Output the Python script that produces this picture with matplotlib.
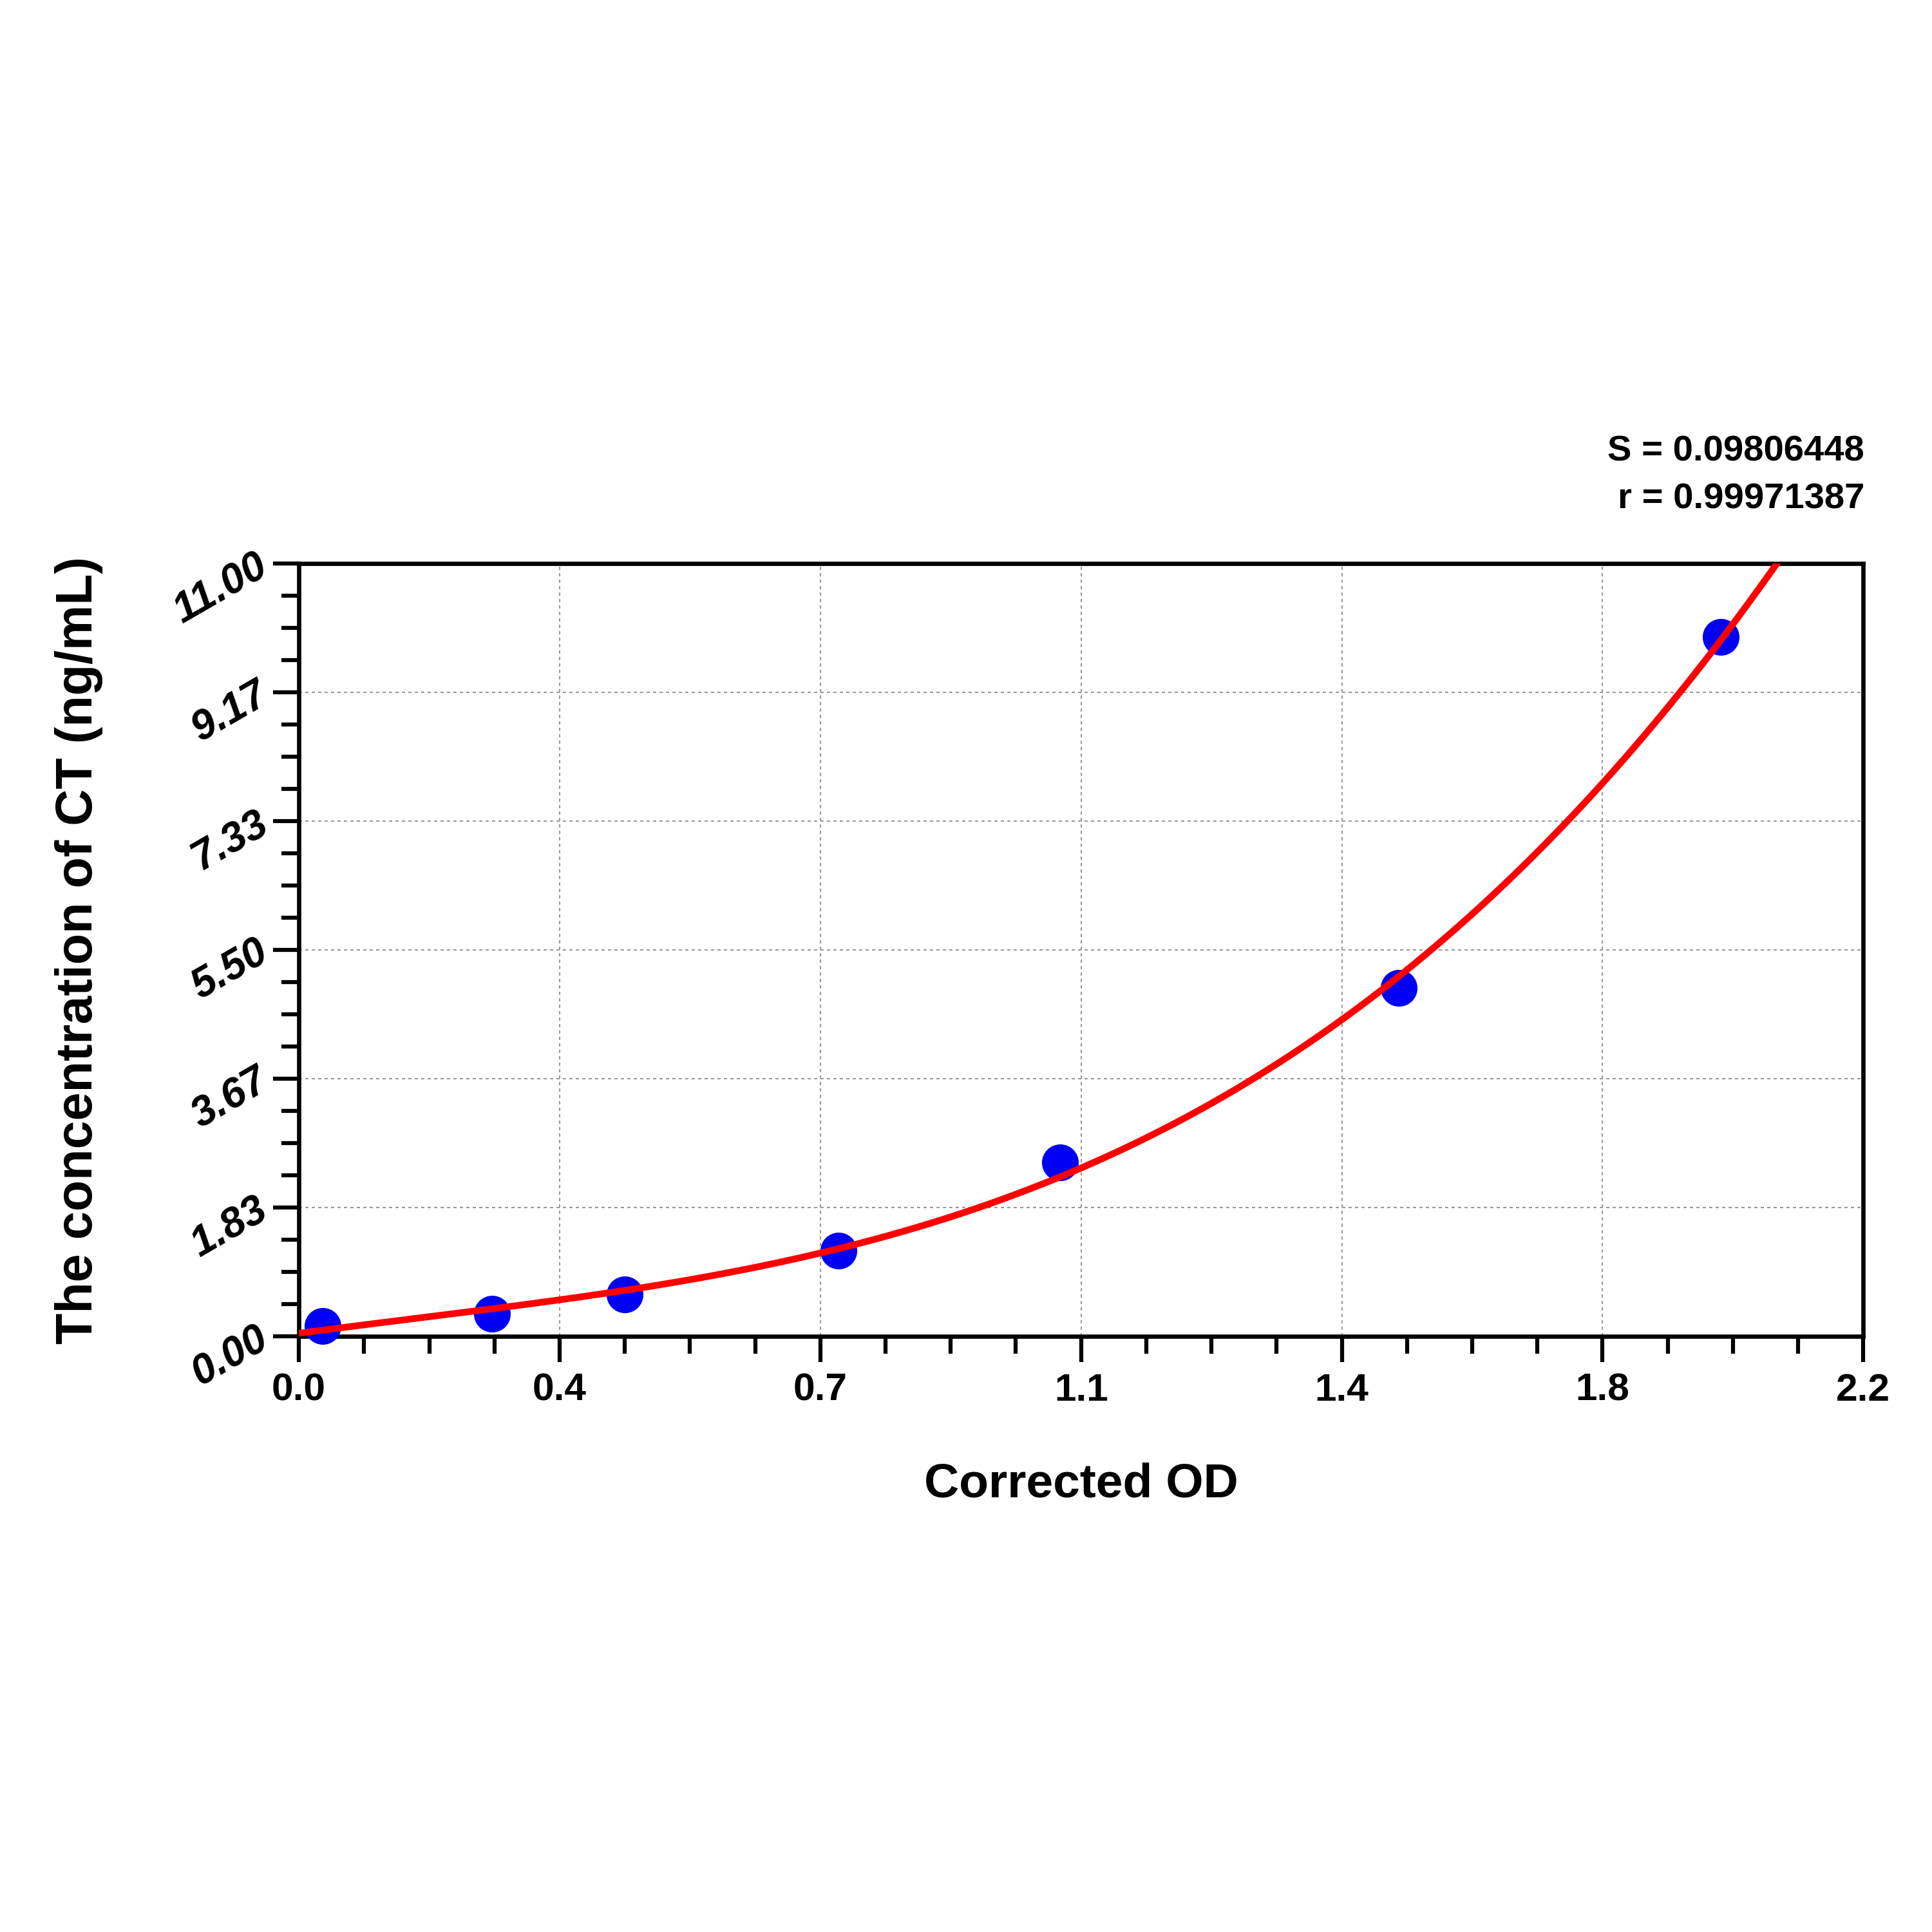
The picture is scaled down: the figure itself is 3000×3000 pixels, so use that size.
import numpy as np
import matplotlib
matplotlib.use("Agg")
import matplotlib.pyplot as plt
from matplotlib.ticker import FixedLocator, AutoMinorLocator

plt.rcParams['font.family'] = ['Liberation Sans', 'DejaVu Sans']

# Data
od = [0.033, 0.272, 0.458, 0.759, 1.070, 1.547, 2.000]
conc = [0.15, 0.32, 0.60, 1.22, 2.48, 4.96, 9.96]

x_ticks = [0.0, 2.2 / 6, 2 * 2.2 / 6, 1.1, 4 * 2.2 / 6, 5 * 2.2 / 6, 2.2]
x_tick_labels = ["0.0", "0.4", "0.7", "1.1", "1.4", "1.8", "2.2"]
y_ticks = [0.0, 11 / 6, 2 * 11 / 6, 5.5, 4 * 11 / 6, 5 * 11 / 6, 11.0]
y_tick_labels = ["0.00", "1.83", "3.67", "5.50", "7.33", "9.17", "11.00"]

stats_text = "S = 0.09806448\nr = 0.99971387"
x_label = "Corrected OD"
y_label = "The concentration of CT (ng/mL)"

# Fitted standard curve (cubic regression on the standards)
coef = np.polyfit(od, conc, 3)
xs = np.linspace(0.0, 2.2, 600)
ys = np.polyval(coef, xs)

fig = plt.figure(figsize=(10, 10), dpi=300)
ax = fig.add_axes([0.1547, 0.3083, 0.8097, 0.4])

ax.plot(od, conc, 'o', color='#0000f5', markersize=12.7, zorder=3, clip_on=False)
ax.plot(xs, ys, '-', color='#ff0000', linewidth=2.5, zorder=4, solid_capstyle='round')

ax.set_xlim(0, 2.2)
ax.set_ylim(0, 11)

ax.xaxis.set_major_locator(FixedLocator(x_ticks))
ax.set_xticklabels(x_tick_labels, fontsize=14.5, fontweight='bold')
ax.yaxis.set_major_locator(FixedLocator(y_ticks))
ax.set_yticklabels(y_tick_labels, fontsize=15.5, fontweight='bold', fontstyle='italic',
                   rotation=30, ha='right', va='center', rotation_mode='anchor')
ax.xaxis.set_minor_locator(AutoMinorLocator(4))
ax.yaxis.set_minor_locator(AutoMinorLocator(4))

ax.tick_params(which='major', direction='out', length=9.6, width=1.5, color='black')
ax.tick_params(which='minor', direction='out', length=6.5, width=1.5, color='black')
ax.tick_params(axis='x', which='major', pad=4)
ax.tick_params(axis='y', which='major', pad=3)

for s in ax.spines.values():
    s.set_linewidth(1.6)
    s.set_color('black')

ax.grid(True, which='major', color='#9a9a9a', linewidth=0.5, linestyle=(0, (2.4, 2.4)))
ax.set_axisbelow(True)

ax.set_xlabel(x_label, fontsize=18, fontweight='bold', labelpad=20)
ax.set_ylabel(y_label, fontsize=19, fontweight='bold', labelpad=24)

fig.text(0.965, 0.733, stats_text, ha='right', va='bottom', fontsize=13.5,
         fontweight='bold', linespacing=1.55, multialignment='right')

fig.savefig("out.png", dpi=300, facecolor='white')
